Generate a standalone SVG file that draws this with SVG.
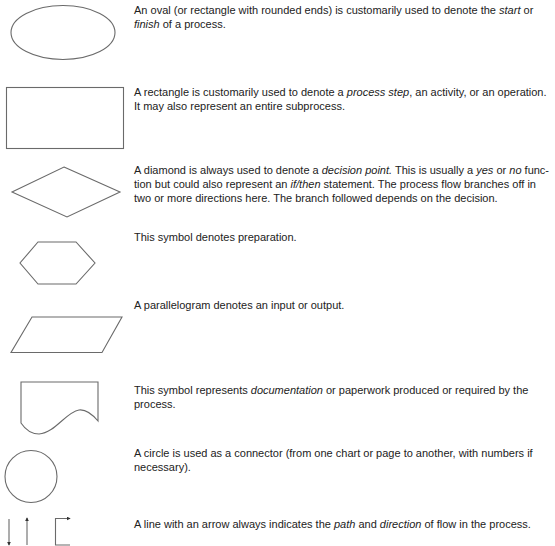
<svg xmlns="http://www.w3.org/2000/svg" width="555" height="546" viewBox="0 0 555 546">
<defs>
<style>
.s{fill:none;stroke:#6a6a6a;stroke-width:1.1}
.t{font-family:"Liberation Sans",Arial,sans-serif;font-size:11px;fill:#222}
.i{font-style:italic}
</style>
<marker id="ah" viewBox="0 0 6 6" refX="5" refY="3" markerWidth="4" markerHeight="4" orient="auto" markerUnits="userSpaceOnUse">
<path d="M0,0 L6,3 L0,6 Z" fill="#333"/>
</marker>
</defs>
<rect width="555" height="546" fill="#fff"/>
<g id="oval">
<ellipse class="s" cx="63" cy="32.5" rx="52" ry="27"/>
<text class="t" x="134" y="14">An oval (or rectangle with rounded ends) is customarily used to denote the <tspan class="i">start</tspan> or</text>
<text class="t" x="134" y="28"><tspan class="i">finish</tspan> of a process.</text>
</g>
<g id="rectangle">
<rect class="s" x="6.5" y="87.5" width="117" height="61"/>
<text class="t" x="134" y="96">A rectangle is customarily used to denote a <tspan class="i">process step</tspan>, an activity, or an operation.</text>
<text class="t" x="134" y="110">It may also represent an entire subprocess.</text>
</g>
<g id="diamond">
<polygon class="s" points="64,167 120,192 67,217 12,192"/>
<text class="t" x="134" y="174">A diamond is always used to denote a <tspan class="i">decision point.</tspan> This is usually a <tspan class="i">yes</tspan> or <tspan class="i">no</tspan> func-</text>
<text class="t" x="134" y="188">tion but could also represent an <tspan class="i">if/then</tspan> statement. The process flow branches off in</text>
<text class="t" x="134" y="202">two or more directions here. The branch followed depends on the decision.</text>
</g>
<g id="hexagon">
<polygon class="s" points="38,242 76,242 95,263 76,284 38,284 20,263"/>
<text class="t" x="134" y="241">This symbol denotes preparation.</text>
</g>
<g id="parallelogram">
<polygon class="s" points="32,317 122,317 102,352.5 11,352.5"/>
<text class="t" x="134" y="309">A parallelogram denotes an input or output.</text>
</g>
<g id="documentation">
<path class="s" d="M21,382 H98 V421 C92,414 86,409 79,410 C66,412 55,433 39,434 C31,434 25,429 21,423 Z"/>
<text class="t" x="134" y="394">This symbol represents <tspan class="i">documentation</tspan> or paperwork produced or required by the</text>
<text class="t" x="134" y="408">process.</text>
</g>
<g id="circle">
<circle class="s" cx="31" cy="476.5" r="26"/>
<text class="t" x="134" y="457">A circle is used as a connector (from one chart or page to another, with numbers if</text>
<text class="t" x="134" y="471">necessary).</text>
</g>
<g id="connectors">
<line class="s" x1="9" y1="519" x2="9" y2="545" marker-end="url(#ah)"/>
<line class="s" x1="27" y1="545" x2="27" y2="518" marker-end="url(#ah)"/>
<polyline class="s" points="70,545 55.5,545 55.5,518.5 70,518.5" marker-end="url(#ah)"/>
</g>
<g id="flow-line">
<text class="t" x="134" y="528">A line with an arrow always indicates the <tspan class="i">path</tspan> and <tspan class="i">direction</tspan> of flow in the process.</text>
</g>
</svg>
